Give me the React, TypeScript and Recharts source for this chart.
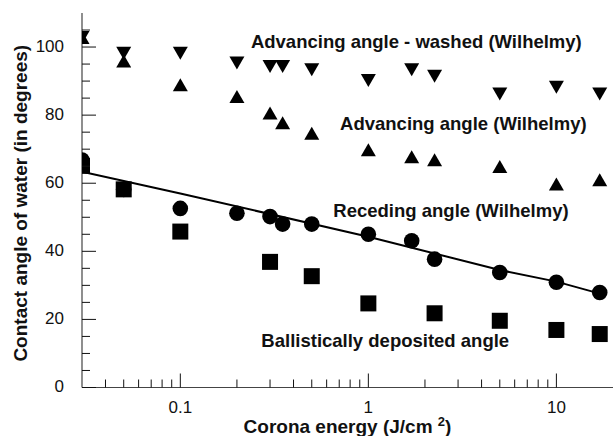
import { ScatterChart, Scatter, XAxis, YAxis, ReferenceDot } from 'recharts';

// Corona energy (J/cm2) at which each sample was measured
const energy = [0.03, 0.05, 0.1, 0.2, 0.3, 0.35, 0.5, 1, 1.7, 2.25, 5, 10, 17];

// contact angles (degrees), null where no point was plotted
const washed = [102.8, 98.2, 98.2, 95.3, 94.3, 94.3, 93.3, 90.2, 93.3, 91.4, 86.2, 88.2, 86.2];
const advancing = [102.8, 95.9, 88.9, 85.5, 80.6, 77.8, 74.7, 69.8, 67.8, 66.9, 64.9, 59.8, 61];
const receding = [66.8, 58.2, 52.6, 51.2, 50.2, 48.0, 48.0, 45.0, 43.1, 37.7, 33.8, 30.9, 27.9];
const ballistic = [65.1, 58.2, 45.8, null, 36.9, null, 32.7, 24.7, null, 21.8, 19.6, 16.9, 15.7];

// fitted line through the receding angles
const trendEnergy = [0.03, 0.1, 1, 5, 10, 18];
const trendAngle = [63.4, 57, 44.3, 34.5, 31.1, 27.2];

const xMajor = [0.1, 1, 10];
const xTicks = [
  0.04, 0.05, 0.06, 0.07, 0.08, 0.09, 0.1,
  0.2, 0.3, 0.4, 0.5, 0.6, 0.7, 0.8, 0.9, 1,
  2, 3, 4, 5, 6, 7, 8, 9, 10,
];
const yMajor = [0, 20, 40, 60, 80, 100];
const yTicks = [0, 5, 10, 15, 20, 25, 30, 35, 40, 45, 50, 55, 60, 65, 70, 75, 80, 85, 90, 95, 100, 105];

const toPoints = (xs: number[], ys: (number | null)[]) =>
  xs.map((x, i) => ({ x, y: ys[i] })).filter((p) => p.y != null);

const INK = '#111';
const AXIS = '#444';

const BottomTick = ({ x, y, payload }: any) => {
  const major = xMajor.includes(payload.value);
  return (
    <g>
      <line x1={x} x2={x} y1={y} y2={y - (major ? 14 : 8)} stroke={INK} />
      {major && (
        <text x={x} y={y + 25} textAnchor="middle" fontSize={17} fill={INK}>
          {payload.value}
        </text>
      )}
    </g>
  );
};

const TopTick = ({ x, y, payload }: any) => {
  const major = xMajor.includes(payload.value);
  return <line x1={x} x2={x} y1={y} y2={y + (major ? 14 : 8)} stroke={INK} />;
};

const LeftTick = ({ x, y, payload }: any) => {
  const major = yMajor.includes(payload.value);
  return (
    <g>
      <line x1={x} x2={x + (major ? 14 : 8)} y1={y} y2={y} stroke={INK} />
      {major && (
        <text x={x - 18} y={y + 4.5} textAnchor="end" fontSize={17} fill={INK}>
          {payload.value}
        </text>
      )}
    </g>
  );
};

const RightTick = ({ x, y, payload }: any) => {
  const major = yMajor.includes(payload.value);
  return <line x1={x} x2={x - (major ? 14 : 8)} y1={y} y2={y} stroke={INK} />;
};

const UpTri = ({ cx, cy }: any) => (
  <path d={`M${cx},${cy - 6.5}L${cx + 7.5},${cy + 6.5}L${cx - 7.5},${cy + 6.5}Z`} fill="#000" />
);
const DownTri = ({ cx, cy }: any) => (
  <path d={`M${cx - 7.5},${cy - 6.5}L${cx + 7.5},${cy - 6.5}L${cx},${cy + 6.5}Z`} fill="#000" />
);
const Dot = ({ cx, cy }: any) => <circle cx={cx} cy={cy} r={7.8} fill="#000" />;
const Square = ({ cx, cy }: any) => <rect x={cx - 8} y={cy - 8} width={16} height={16} fill="#000" />;
const Nothing = () => <g />;

const XTitle = ({ viewBox }: any) => {
  const cx = viewBox.x + viewBox.width / 2;
  return (
    <text x={cx} y={viewBox.y + 45} textAnchor="middle" fontSize={19} fontWeight="bold" fill={INK}>
      Corona energy (J/cm <tspan dy={-7} fontSize={13}>2</tspan>
      <tspan dy={7}>)</tspan>
    </text>
  );
};

const noteStyle = { fontSize: 18.5, fontWeight: 'bold', fill: INK };

export default function App() {
  return (
    <div style={{ position: 'absolute', left: 0, top: 0, fontFamily: '"Liberation Sans", Arial, sans-serif' }}>
      <ScatterChart width={613} height={436} margin={{ top: 13, right: 0, bottom: 0, left: 0 }}>
        <XAxis
          xAxisId={0}
          dataKey="x"
          type="number"
          scale="log"
          domain={[0.03, 20]}
          allowDataOverflow
          ticks={xTicks}
          interval={0}
          tick={<BottomTick />}
          tickLine={false}
          tickSize={0}
          tickMargin={0}
          height={48.5}
          axisLine={{ stroke: AXIS, strokeWidth: 1.2 }}
          label={<XTitle />}
        />
        <XAxis
          xAxisId="top"
          orientation="top"
          dataKey="x"
          type="number"
          scale="log"
          domain={[0.03, 20]}
          allowDataOverflow
          ticks={xTicks}
          interval={0}
          tick={<TopTick />}
          tickLine={false}
          tickSize={0}
          tickMargin={0}
          height={0}
          axisLine={{ stroke: AXIS, strokeWidth: 1.5 }}
        />
        <YAxis
          yAxisId={0}
          dataKey="y"
          type="number"
          domain={[0, 110]}
          allowDataOverflow
          ticks={yTicks}
          interval={0}
          tick={<LeftTick />}
          tickLine={false}
          tickSize={0}
          tickMargin={0}
          width={82}
          axisLine={{ stroke: AXIS, strokeWidth: 1.2 }}
          label={{
            value: 'Contact angle of water (in degrees)',
            angle: -90,
            position: 'center',
            dx: -21,
            dy: 3,
            style: { fontSize: 19, fontWeight: 'bold', fill: INK },
          }}
        />
        <YAxis
          yAxisId="right"
          orientation="right"
          dataKey="y"
          type="number"
          domain={[0, 110]}
          allowDataOverflow
          ticks={yTicks}
          interval={0}
          tick={<RightTick />}
          tickLine={false}
          tickSize={0}
          tickMargin={0}
          width={0}
          axisLine={false}
        />
        <Scatter
          data={toPoints(trendEnergy, trendAngle)}
          line={{ stroke: '#000', strokeWidth: 2 }}
          shape={<Nothing />}
          isAnimationActive={false}
        />
        <Scatter data={toPoints(energy, receding)} shape={<Dot />} isAnimationActive={false} />
        <Scatter data={toPoints(energy, ballistic)} shape={<Square />} isAnimationActive={false} />
        <Scatter data={toPoints(energy, advancing)} shape={<UpTri />} isAnimationActive={false} />
        <Scatter data={toPoints(energy, washed)} shape={<DownTri />} isAnimationActive={false} />
        <ReferenceDot x={1.8} y={101.6} r={0} stroke="none" fill="none"
          label={{ value: 'Advancing angle - washed (Wilhelmy)', position: 'center', ...noteStyle }} />
        <ReferenceDot x={3.2} y={77.6} r={0} stroke="none" fill="none"
          label={{ value: 'Advancing angle (Wilhelmy)', position: 'center', ...noteStyle }} />
        <ReferenceDot x={2.75} y={52.1} r={0} stroke="none" fill="none"
          label={{ value: 'Receding angle (Wilhelmy)', position: 'center', ...noteStyle }} />
        <ReferenceDot x={1.23} y={13.9} r={0} stroke="none" fill="none"
          label={{ value: 'Ballistically deposited angle', position: 'center', ...noteStyle }} />
      </ScatterChart>
    </div>
  );
}
